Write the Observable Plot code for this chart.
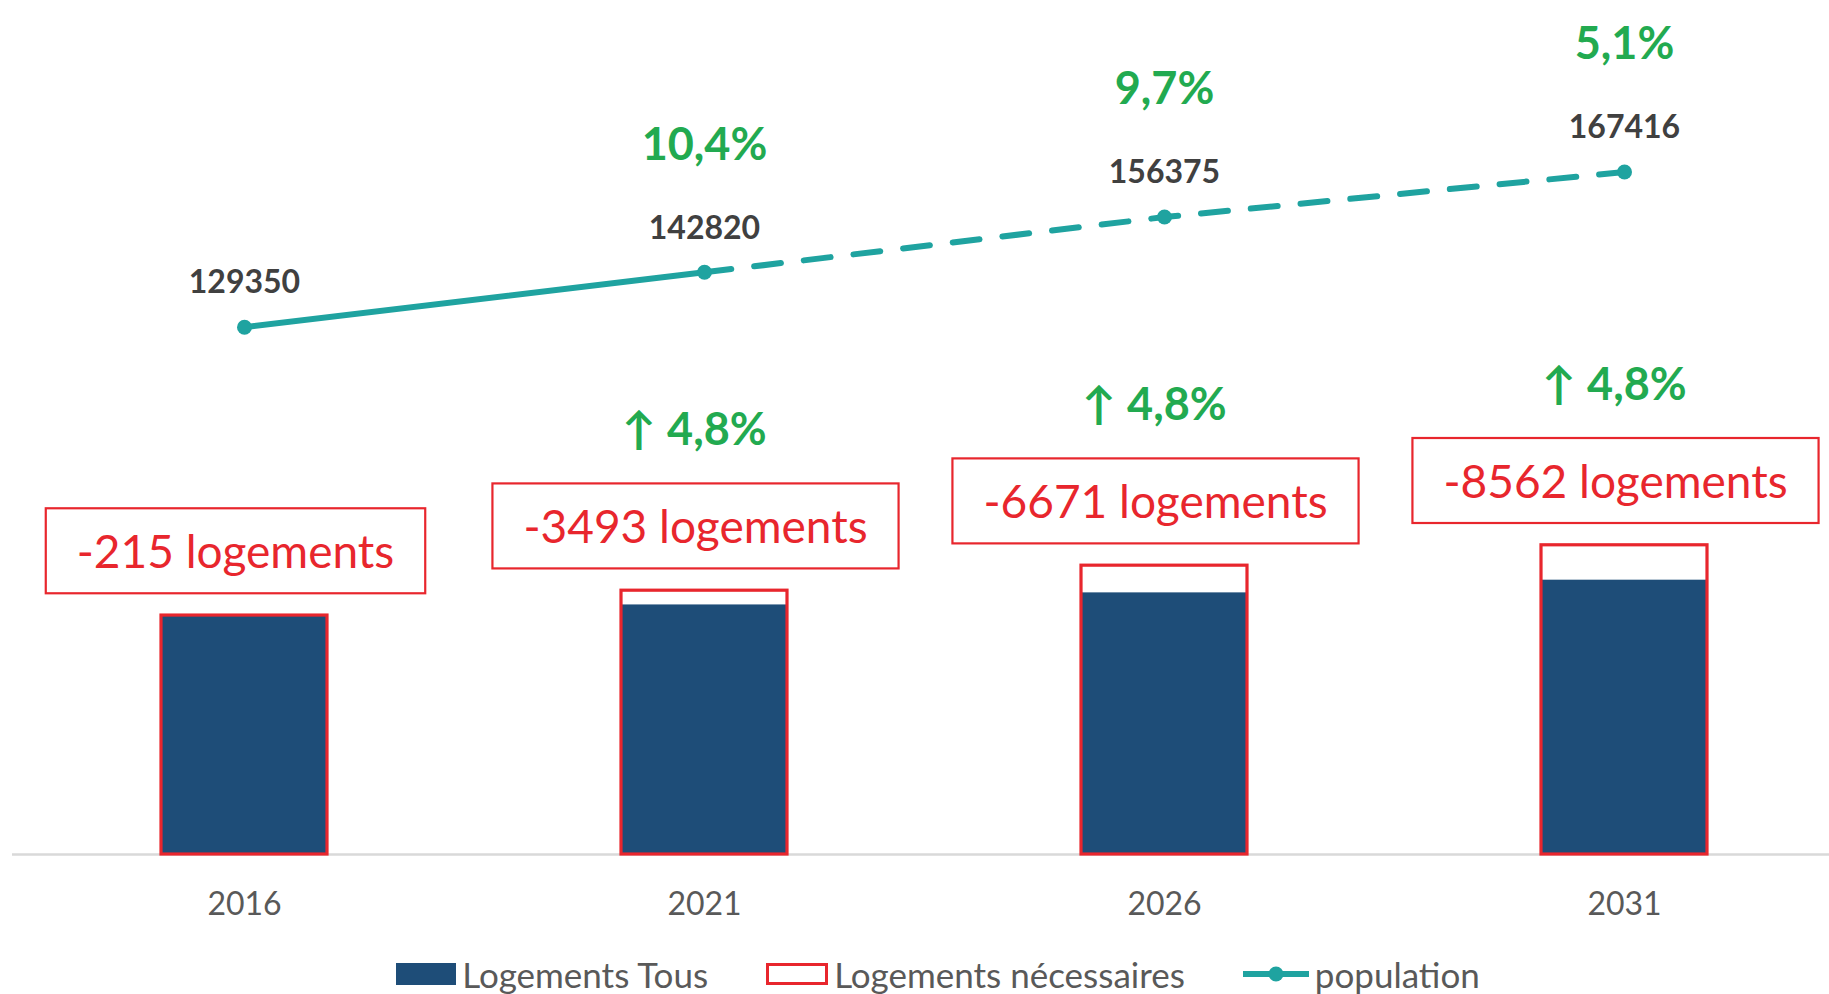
<!DOCTYPE html>
<html>
<head>
<meta charset="utf-8">
<script src="https://cdn.jsdelivr.net/npm/d3@7"></script>
<script src="https://cdn.jsdelivr.net/npm/@observablehq/plot@0.6"></script>
<style>
  html, body { margin: 0; padding: 0; background: #fff; overflow: hidden; }
  body { width: 1829px; height: 994px; font-family: Lato, "Open Sans", sans-serif; }
  #legend { display: flex; justify-content: center; align-items: center; height: 48px;
            padding-left: 47px; font-size: 35px; color: #595959; }
  #legend .item { display: flex; align-items: center; margin: 0 29px; }
  #legend svg { margin-right: 6px; display: block; }
</style>
</head>
<body>
<div id="chart"></div>
<div id="legend"></div>
<script>
// ---- data ----
const years = ["2016", "2021", "2026", "2031"];
const logementsTous = [58400, 61220, 64180, 67290];
const logementsNecessaires = [58615, 64713, 70851, 75852];
const deficitLabels = ["-215 logements", "-3493 logements", "-6671 logements", "-8562 logements"];
const population = [129350, 142820, 156375, 167416];
const populationGrowthLabels = ["", "10,4%", "9,7%", "5,1%"];
const logementsGrowthLabels = ["", "\u2191 4,8%", "\u2191 4,8%", "\u2191 4,8%"];
const legendLabels = ["Logements Tous", "Logements nécessaires", "population"];

// ---- styles ----
const NAVY = "#1e4d78";
const RED = "#e8262d";
const TEAL = "#1fa3a0";
const GREEN = "#22aa50";
const DARK = "#404040";
const GRAY = "#595959";

const rows = years.map((year, i) => ({
  year,
  tous: logementsTous[i],
  necessaires: logementsNecessaires[i],
  deficit: deficitLabels[i],
  pop: population[i],
  popGrowth: populationGrowthLabels[i],
  logGrowth: logementsGrowthLabels[i]
}));

const chart = Plot.plot({
  width: 1829,
  height: 950,
  marginTop: 0,
  marginBottom: 96,
  marginLeft: 12,
  marginRight: 0,
  style: { fontFamily: "Lato, 'Open Sans', sans-serif", background: "white", overflow: "hidden" },
  x: { type: "band", domain: years, range: [12.75, 1854.25], paddingInner: 0.64, paddingOuter: 0.32, align: 0.5 },
  y: { domain: [0, 209490], axis: null },
  marks: [
    Plot.ruleY([0], { stroke: "#d9d9d9", strokeWidth: 2.5 }),
    Plot.rectY(rows, { x: "year", y: "tous", fill: NAVY }),
    Plot.rectY(rows, { x: "year", y: "necessaires", fill: "none", stroke: RED, strokeWidth: 3.2 }),
    Plot.line(rows.slice(0, 2), { x: "year", y: "pop", stroke: TEAL, strokeWidth: 6 }),
    Plot.line(rows.slice(1), { x: "year", y: "pop", stroke: TEAL, strokeWidth: 6, strokeDasharray: "27,23" }),
    Plot.dot(rows, { x: "year", y: "pop", r: 7.5, fill: TEAL }),
    Plot.text(rows, { x: "year", y: "pop", text: (d) => String(d.pop), dy: -44, fontSize: 32, fontWeight: 700, fill: DARK }),
    Plot.text(rows.filter((d) => d.popGrowth), { x: "year", y: "pop", text: "popGrowth", dy: -127, fontSize: 45, fontWeight: 700, fill: GREEN }),
    Plot.text(rows.filter((d) => d.logGrowth), { x: "year", y: "necessaires", text: "logGrowth", dy: -160, dx: -10, fontSize: 45, fontWeight: 700, fill: GREEN }),
    Plot.text(rows, { x: "year", y: "necessaires", text: "deficit", dy: -62, dx: -9, fontSize: 46, fill: RED }),
    Plot.axisX({ tickSize: 0, tickPadding: 38, fontSize: 32, color: GRAY, label: null })
  ]
});
document.getElementById("chart").appendChild(chart);

// boxes around the deficit labels, sized from the rendered text
function drawBoxes() {
  const ns = "http://www.w3.org/2000/svg";
  chart.querySelectorAll("text").forEach((t) => {
    if (!/logements/.test(t.textContent)) return;
    const bb = t.getBBox();
    const padX = 31, padY = 15;
    const r = document.createElementNS(ns, "rect");
    r.setAttribute("x", bb.x - padX);
    r.setAttribute("y", bb.y - padY);
    r.setAttribute("width", bb.width + 2 * padX);
    r.setAttribute("height", bb.height + 2 * padY);
    r.setAttribute("fill", "white");
    r.setAttribute("stroke", RED);
    r.setAttribute("stroke-width", 2.2);
    const tr = t.getAttribute("transform");
    if (tr) r.setAttribute("transform", tr);
    t.parentNode.insertBefore(r, t);
  });
}
if (document.fonts && document.fonts.ready) document.fonts.ready.then(drawBoxes); else drawBoxes();

// legend
const legend = document.getElementById("legend");
const swatches = [
  `<svg width="60" height="22"><rect x="0" y="0" width="60" height="22" fill="${NAVY}"/></svg>`,
  `<svg width="62" height="22"><rect x="1.5" y="1.5" width="59" height="19" fill="white" stroke="${RED}" stroke-width="3"/></svg>`,
  `<svg width="66" height="22"><line x1="0" y1="11" x2="66" y2="11" stroke="${TEAL}" stroke-width="6"/><circle cx="33" cy="11" r="7.5" fill="${TEAL}"/></svg>`
];
legendLabels.forEach((label, i) => {
  const item = document.createElement("div");
  item.className = "item";
  item.innerHTML = swatches[i] + `<span>${label}</span>`;
  legend.appendChild(item);
});
</script>
</body>
</html>
